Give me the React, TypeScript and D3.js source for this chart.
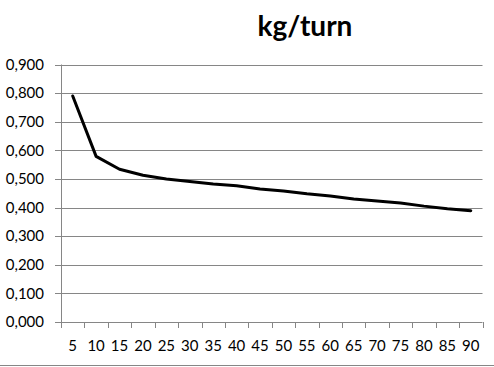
import { useMemo } from 'react'
import * as d3 from 'd3'

const categories = ['5', '10', '15', '20', '25', '30', '35', '40', '45', '50', '55', '60', '65', '70', '75', '80', '85', '90']
const values = [0.790, 0.579, 0.534, 0.513, 0.5, 0.491, 0.482, 0.476, 0.465, 0.458, 0.448, 0.44, 0.43, 0.423, 0.416, 0.405, 0.396, 0.389]
const yTicks = [0, 0.1, 0.2, 0.3, 0.4, 0.5, 0.6, 0.7, 0.8, 0.9]
const title = 'kg/turn'

const W = 494
const H = 367
const FONT = 'Lato, "Open Sans", sans-serif'

export default function App() {
  const left = 61
  const right = 482.5
  const top = 64.5
  const bottom = 322

  const x = useMemo(() => d3.scaleBand().domain(categories).range([left, right]), [])
  const y = useMemo(() => d3.scaleLinear().domain([0, 0.9]).range([bottom, top]), [])
  const fmt = (v: number) => v.toFixed(3).replace('.', ',')

  const line = d3.line<number>()
    .x((_, i) => (x(categories[i]) ?? 0) + x.bandwidth() / 2)
    .y(d => y(d))

  const edges = categories.map(c => x(c) ?? 0).concat([right])

  return (
    <svg width={W} height={H} style={{ position: 'absolute', left: 0, top: 0, background: '#fff' }}>
      <text x={305} y={36} textAnchor="middle" fontFamily={FONT} fontWeight="bold" fontSize={28} fill="#000">
        {title}
      </text>

      {/* gridlines + y ticks */}
      {yTicks.map(t => (
        <g key={t}>
          {t > 0 && (
            <line x1={left} x2={right} y1={Math.round(y(t)) + 0.5} y2={Math.round(y(t)) + 0.5} stroke="#868686" strokeWidth={1} />
          )}
          <line x1={left - 6} x2={left} y1={Math.round(y(t)) + 0.5} y2={Math.round(y(t)) + 0.5} stroke="#868686" strokeWidth={1} />
          <text x={44} y={y(t)} dy="0.35em" textAnchor="end" fontFamily={FONT} fontSize={15} fill="#000">
            {fmt(t)}
          </text>
        </g>
      ))}

      {/* axes */}
      <line x1={left + 0.5} x2={left + 0.5} y1={top} y2={bottom + 6} stroke="#868686" strokeWidth={1} />
      <line x1={left} x2={right} y1={Math.round(bottom) + 0.5} y2={Math.round(bottom) + 0.5} stroke="#868686" strokeWidth={1} />
      {edges.map((e, i) => (
        <line key={i} x1={Math.round(e) + 0.5} x2={Math.round(e) + 0.5} y1={bottom} y2={bottom + 6} stroke="#868686" strokeWidth={1} />
      ))}
      {categories.map(c => (
        <text key={c} x={(x(c) ?? 0) + x.bandwidth() / 2} y={346} dy="0.35em" textAnchor="middle" fontFamily={FONT} fontSize={15} fill="#000">
          {c}
        </text>
      ))}

      <path d={line(values) ?? ''} fill="none" stroke="#000" strokeWidth={3} strokeLinejoin="round" strokeLinecap="round" />

      <line x1={0} x2={W} y1={365.5} y2={365.5} stroke="#868686" strokeWidth={1} />
    </svg>
  )
}
